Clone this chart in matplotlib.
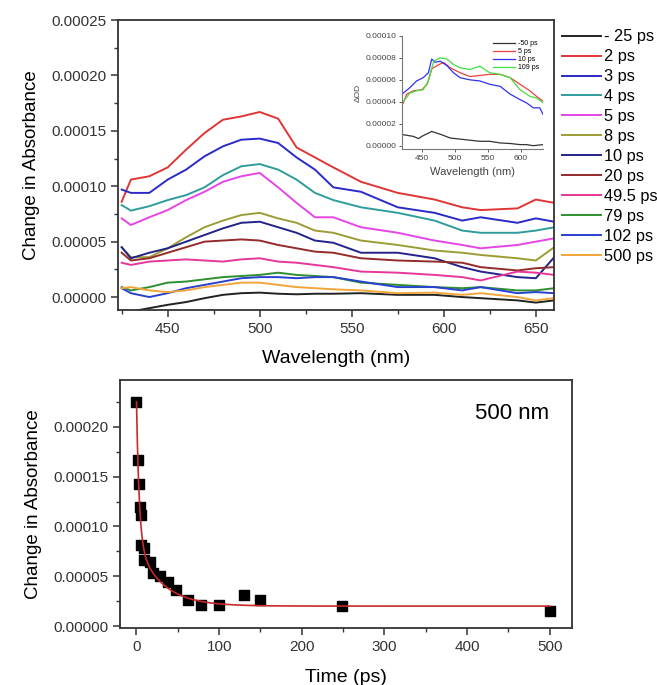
import numpy as np
import matplotlib
matplotlib.use("Agg")
import matplotlib.pyplot as plt
from matplotlib.ticker import FormatStrFormatter, MultipleLocator

plt.rcParams['font.family'] = ['Liberation Sans', 'DejaVu Sans']

# ---- top panel: transient spectra (values in 1e-5) ----
wl = [425, 430, 440, 450, 460, 470, 480, 490, 500, 510, 520, 530, 540,
      555, 575, 595, 610, 620, 640, 650, 660]

spectra = {
    "- 25 ps": [-1.6, -1.3, -1.0, -0.7, -0.45, -0.1, 0.2, 0.35, 0.4, 0.3, 0.25, 0.3, 0.3,
                0.35, 0.2, 0.2, 0.0, -0.1, -0.3, -0.5, -0.3],
    "2 ps": [8.6, 10.6, 10.9, 11.7, 13.3, 14.8, 16.0, 16.3, 16.7, 16.1, 13.5, 12.6, 11.7,
             10.4, 9.4, 8.8, 8.1, 7.85, 8.0, 8.8, 8.5],
    "3 ps": [9.7, 9.4, 9.4, 10.6, 11.5, 12.7, 13.6, 14.2, 14.3, 13.9, 12.6, 11.5, 9.9,
             9.5, 8.1, 7.6, 6.9, 7.2, 6.7, 7.1, 6.8],
    "4 ps": [8.3, 7.8, 8.2, 8.75, 9.2, 9.9, 11.0, 11.8, 12.0, 11.5, 10.6, 9.4, 8.75,
             8.1, 7.6, 6.9, 6.0, 5.8, 5.8, 6.0, 6.3],
    "5 ps": [7.1, 6.5, 7.2, 7.85, 8.75, 9.5, 10.4, 10.9, 11.2, 9.9, 8.5, 7.2, 7.2,
             6.3, 5.8, 5.1, 4.7, 4.4, 4.7, 5.0, 5.3],
    "8 ps": [4.5, 3.6, 3.6, 4.4, 5.4, 6.3, 6.9, 7.4, 7.6, 7.1, 6.7, 6.0, 5.8,
             5.1, 4.7, 4.2, 4.0, 3.8, 3.5, 3.3, 4.5],
    "10 ps": [4.5, 3.5, 4.0, 4.4, 5.0, 5.6, 6.2, 6.7, 6.8, 6.3, 5.8, 5.1, 4.9,
              4.0, 4.0, 3.5, 2.7, 2.3, 1.8, 1.7, 3.6],
    "20 ps": [4.0, 3.3, 3.5, 4.0, 4.5, 5.0, 5.1, 5.2, 5.1, 4.7, 4.4, 4.1, 4.0,
              3.5, 3.3, 3.2, 3.1, 2.7, 2.4, 2.6, 2.7],
    "49.5 ps": [3.1, 2.9, 3.2, 3.3, 3.4, 3.3, 3.2, 3.4, 3.5, 3.2, 3.1, 2.9, 2.7,
                2.3, 2.2, 2.0, 1.8, 1.5, 2.3, 2.2, 2.0],
    "79 ps": [0.9, 0.6, 0.9, 1.3, 1.4, 1.6, 1.8, 1.9, 2.0, 2.2, 2.0, 1.9, 1.8,
              1.3, 1.1, 0.9, 0.8, 0.9, 0.6, 0.6, 0.8],
    "102 ps": [0.8, 0.35, 0.0, 0.35, 0.8, 1.1, 1.4, 1.7, 1.8, 1.8, 1.7, 1.8, 1.8,
               1.4, 0.9, 0.9, 0.6, 0.9, 0.35, 0.45, 0.35],
    "500 ps": [0.8, 0.9, 0.6, 0.45, 0.6, 0.9, 1.1, 1.3, 1.3, 1.1, 0.9, 0.8, 0.7,
               0.6, 0.35, 0.4, 0.2, 0.35, 0.0, -0.3, -0.1],
}
spec_colors = ['#222222', '#e03535', '#2a2ac8', '#2f9c9c', '#e645e6', '#9c9c35',
               '#22228a', '#942a2a', '#e6369a', '#2e8f2e', '#2a40d0', '#f2a53a']

# ---- inset spectra (values in 1e-5) ----
inset_wl = {
    "-50 ps": [422, 437, 445, 450, 465, 480, 493, 508, 523, 538, 553, 569, 584, 599, 609, 619, 634],
    "5 ps": [422, 427, 437, 450, 458, 465, 473, 483, 493, 508, 523, 538, 553, 569, 584, 599, 614, 624, 634],
    "10 ps": [422, 432, 442, 452, 460, 465, 470, 478, 488, 498, 508, 523, 538, 553, 569, 584, 599, 609, 619, 629, 634],
    "109 ps": [422, 432, 442, 452, 460, 468, 478, 488, 498, 508, 523, 538, 553, 569, 584, 599, 614, 624, 634],
}
inset_val = {
    "-50 ps": [1.0, 0.85, 0.65, 0.85, 1.3, 1.0, 0.7, 0.6, 0.5, 0.4, 0.4, 0.25, 0.2, 0.1, 0.1, 0.0, 0.1],
    "5 ps": [3.9, 4.7, 5.0, 5.1, 5.6, 7.0, 7.3, 7.6, 7.1, 6.65, 6.3, 6.4, 6.5, 6.5, 6.2, 5.6, 5.0, 4.5, 4.05],
    "10 ps": [4.8, 5.3, 5.9, 6.2, 6.65, 7.9, 7.6, 7.7, 7.3, 6.65, 6.2, 6.0, 5.9, 5.6, 5.4, 4.7, 4.2, 3.9, 3.45, 3.45, 2.85],
    "109 ps": [4.05, 4.8, 5.0, 5.1, 5.9, 7.7, 8.0, 7.9, 7.4, 7.1, 6.95, 7.25, 6.65, 6.5, 6.2, 5.1, 4.5, 4.35, 3.9],
}
inset_colors = ['#333333', '#f04040', '#3030f0', '#40e040']

# ---- bottom panel: kinetics at 500 nm ----
t_ps = [0, 2, 3, 4, 5, 6, 9, 9, 16, 20, 28, 38, 48, 62, 78, 100, 130, 150, 249, 500]
dA = [22.5, 16.65, 14.3, 12.0, 11.1, 8.1, 7.8, 6.6, 6.4, 5.3, 5.0, 4.4, 3.6, 2.6,
      2.1, 2.1, 3.1, 2.65, 2.0, 1.5]
# biexponential fit parameters (1e-5, ps)
fit_y0, fit_a1, fit_tau1, fit_a2, fit_tau2 = 2.0, 14.1, 3.3, 6.4, 30.0

fig = plt.figure(figsize=(6.57, 6.85), dpi=100)


def style_axes(ax, lw=1.3):
    for s in ax.spines.values():
        s.set_linewidth(lw)
        s.set_color('#333333')
    ax.tick_params(which='both', direction='out', colors='#333333')
    ax.tick_params(which='major', length=5, width=1.1)
    ax.tick_params(which='minor', length=3, width=1.0)


# top panel
ax1 = fig.add_axes([0.1796, 0.5474, 0.664, 0.4234])
for (lab, vals), c in zip(spectra.items(), spec_colors):
    ax1.plot(wl, np.array(vals) * 1e-5, color=c, lw=1.4, label=lab)
ax1.set_xlim(423, 660)
ax1.set_ylim(-0.0000117, 0.00025)
ax1.xaxis.set_major_locator(MultipleLocator(50))
ax1.xaxis.set_minor_locator(MultipleLocator(25))
ax1.yaxis.set_major_locator(MultipleLocator(0.00005))
ax1.yaxis.set_minor_locator(MultipleLocator(0.000025))
ax1.yaxis.set_major_formatter(FormatStrFormatter('%.5f'))
ax1.tick_params(labelsize=11)
ax1.set_xlabel("Wavelength (nm)", fontsize=14, labelpad=10)
ax1.set_ylabel("Change in Absorbance", fontsize=13.5, labelpad=8)
style_axes(ax1)

fig.legend(loc='upper left', bbox_to_anchor=(0.855, 0.957), frameon=False,
           fontsize=11.8, handlelength=2.4, handletextpad=0.2, labelspacing=0.3,
           borderaxespad=0, borderpad=0)

# inset
axi = fig.add_axes([0.612, 0.7825, 0.2146, 0.165])
for (lab, xs), c in zip(inset_wl.items(), inset_colors):
    axi.plot(xs, np.array(inset_val[lab]) * 1e-5, color=c, lw=0.9, label=lab)
axi.set_xlim(420, 634)
axi.set_ylim(-0.000003, 0.0001)
axi.spines['top'].set_visible(False)
axi.spines['right'].set_visible(False)
for s in ['left', 'bottom']:
    axi.spines[s].set_color('#777777')
    axi.spines[s].set_linewidth(0.8)
axi.xaxis.set_major_locator(MultipleLocator(50))
axi.yaxis.set_major_locator(MultipleLocator(0.00002))
axi.yaxis.set_major_formatter(FormatStrFormatter('%.5f'))
axi.tick_params(labelsize=6, length=2, width=0.6, colors='#444444', pad=2)
axi.set_xlabel("Wavelength (nm)", fontsize=8, color='#444444', labelpad=4)
axi.set_ylabel("ΔOD", fontsize=6, color='#444444', labelpad=3)
axi.legend(loc='upper right', frameon=False, fontsize=5, handlelength=3.2,
           handletextpad=0.4, labelspacing=0.15, borderaxespad=0.2)

# bottom panel
ax2 = fig.add_axes([0.1826, 0.0832, 0.688, 0.362])
t_fit = np.linspace(0, 500, 1001)
y_fit = fit_y0 + fit_a1 * np.exp(-t_fit / fit_tau1) + fit_a2 * np.exp(-t_fit / fit_tau2)
ax2.plot(t_fit, y_fit * 1e-5, color='#c82828', lw=1.2, zorder=3)
ax2.scatter(t_ps, np.array(dA) * 1e-5, marker='s', s=55, color='black', zorder=2)
ax2.set_xlim(-20, 527)
ax2.set_ylim(-0.000002, 0.000247)
ax2.xaxis.set_major_locator(MultipleLocator(100))
ax2.xaxis.set_minor_locator(MultipleLocator(50))
ax2.yaxis.set_major_locator(MultipleLocator(0.00005))
ax2.yaxis.set_minor_locator(MultipleLocator(0.000025))
ax2.yaxis.set_major_formatter(FormatStrFormatter('%.5f'))
ax2.tick_params(labelsize=11)
ax2.set_xlabel("Time (ps)", fontsize=14, labelpad=11)
ax2.set_ylabel("Change in Absorbance", fontsize=13.5, labelpad=8)
ax2.text(0.95, 0.865, "500 nm", transform=ax2.transAxes, ha='right', va='center',
         fontsize=16)
style_axes(ax2)

fig.savefig("out.png", dpi=100)
